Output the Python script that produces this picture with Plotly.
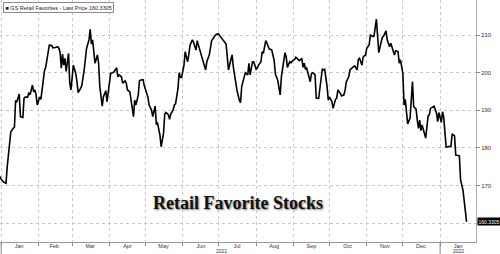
import plotly.graph_objects as go

# ---------------- data ----------------
dates = [
    "2020-12-31", "2021-01-01", "2021-01-03", "2021-01-05", "2021-01-06", "2021-01-08", "2021-01-09",
    "2021-01-11", "2021-01-12", "2021-01-13", "2021-01-14", "2021-01-16", "2021-01-17", "2021-01-19",
    "2021-01-20", "2021-01-21", "2021-01-23", "2021-01-24", "2021-01-25", "2021-01-27", "2021-01-28",
    "2021-01-29", "2021-01-30", "2021-01-31", "2021-02-02", "2021-02-03", "2021-02-05", "2021-02-06",
    "2021-02-07", "2021-02-09", "2021-02-10", "2021-02-12", "2021-02-13", "2021-02-15", "2021-02-17",
    "2021-02-18", "2021-02-19", "2021-02-20", "2021-02-21", "2021-02-22", "2021-02-23", "2021-02-24",
    "2021-02-26", "2021-02-27", "2021-02-28", "2021-03-02", "2021-03-04", "2021-03-05", "2021-03-06",
    "2021-03-08", "2021-03-09", "2021-03-11", "2021-03-13", "2021-03-15", "2021-03-16", "2021-03-17",
    "2021-03-18", "2021-03-20", "2021-03-22", "2021-03-23", "2021-03-24", "2021-03-26", "2021-03-27",
    "2021-03-29", "2021-03-30", "2021-04-01", "2021-04-02", "2021-04-04", "2021-04-05", "2021-04-07",
    "2021-04-08", "2021-04-09", "2021-04-11", "2021-04-12", "2021-04-14", "2021-04-15", "2021-04-16",
    "2021-04-18", "2021-04-19", "2021-04-21", "2021-04-22", "2021-04-23", "2021-04-25", "2021-04-26",
    "2021-04-28", "2021-04-29", "2021-04-30", "2021-05-02", "2021-05-03", "2021-05-04", "2021-05-06",
    "2021-05-07", "2021-05-09", "2021-05-10", "2021-05-11", "2021-05-13", "2021-05-14", "2021-05-16",
    "2021-05-17", "2021-05-18", "2021-05-20", "2021-05-21", "2021-05-22", "2021-05-24", "2021-05-25",
    "2021-05-26", "2021-05-28", "2021-05-29", "2021-05-30", "2021-05-31", "2021-06-02", "2021-06-03",
    "2021-06-05", "2021-06-06", "2021-06-07", "2021-06-09", "2021-06-10", "2021-06-12", "2021-06-13",
    "2021-06-14", "2021-06-16", "2021-06-17", "2021-06-18", "2021-06-20", "2021-06-21", "2021-06-23",
    "2021-06-24", "2021-06-25", "2021-06-27", "2021-06-28", "2021-06-30", "2021-07-01", "2021-07-02",
    "2021-07-04", "2021-07-05", "2021-07-07", "2021-07-08", "2021-07-09", "2021-07-11", "2021-07-12",
    "2021-07-13", "2021-07-15", "2021-07-16", "2021-07-18", "2021-07-19", "2021-07-20", "2021-07-22",
    "2021-07-23", "2021-07-25", "2021-07-26", "2021-07-27", "2021-07-29", "2021-07-30", "2021-08-01",
    "2021-08-02", "2021-08-03", "2021-08-05", "2021-08-06", "2021-08-07", "2021-08-09", "2021-08-10",
    "2021-08-12", "2021-08-13", "2021-08-14", "2021-08-16", "2021-08-17", "2021-08-19", "2021-08-21",
    "2021-08-22", "2021-08-24", "2021-08-25", "2021-08-26", "2021-08-27", "2021-08-29", "2021-08-30",
    "2021-09-01", "2021-09-02", "2021-09-03", "2021-09-05", "2021-09-06", "2021-09-08", "2021-09-09",
    "2021-09-10", "2021-09-11", "2021-09-12", "2021-09-13", "2021-09-15", "2021-09-16", "2021-09-17",
    "2021-09-19", "2021-09-20", "2021-09-22", "2021-09-23", "2021-09-25", "2021-09-26", "2021-09-27",
    "2021-09-29", "2021-09-30", "2021-10-01", "2021-10-03", "2021-10-04", "2021-10-06", "2021-10-07",
    "2021-10-08", "2021-10-10", "2021-10-11", "2021-10-13", "2021-10-14", "2021-10-15", "2021-10-17",
    "2021-10-18", "2021-10-20", "2021-10-21", "2021-10-22", "2021-10-24", "2021-10-25", "2021-10-26",
    "2021-10-28", "2021-10-29", "2021-10-31", "2021-11-01", "2021-11-03", "2021-11-04", "2021-11-06",
    "2021-11-07", "2021-11-09", "2021-11-10", "2021-11-11", "2021-11-13", "2021-11-14", "2021-11-15",
    "2021-11-17", "2021-11-18", "2021-11-20", "2021-11-21", "2021-11-22", "2021-11-24", "2021-11-25",
    "2021-11-27", "2021-11-28", "2021-11-29", "2021-12-01", "2021-12-02", "2021-12-03", "2021-12-04",
    "2021-12-05", "2021-12-07", "2021-12-08", "2021-12-09", "2021-12-10", "2021-12-12", "2021-12-13",
    "2021-12-14", "2021-12-15", "2021-12-16", "2021-12-17", "2021-12-19", "2021-12-20", "2021-12-22",
    "2021-12-23", "2021-12-24", "2021-12-26", "2021-12-27", "2021-12-29", "2021-12-30", "2021-12-31",
    "2022-01-02", "2022-01-03", "2022-01-04", "2022-01-06", "2022-01-07", "2022-01-09", "2022-01-10",
    "2022-01-11", "2022-01-13", "2022-01-14", "2022-01-16", "2022-01-17", "2022-01-18", "2022-01-20",
    "2022-01-21", "2022-01-23",
]
prices = [
    172.4, 171.7, 170.9, 170.6, 175.0, 180.3, 184.3,
    185.2, 185.5, 192.6, 192.3, 194.3, 188.3, 188.1,
    193.2, 193.5, 193.5, 194.7, 194.1, 196.7, 194.9,
    195.4, 194.1, 191.4, 193.5, 192.9, 198.1, 200.5,
    201.4, 206.2, 207.3, 207.2, 206.6, 206.7, 206.9,
    206.5, 205.3, 201.2, 204.9, 202.0, 203.8, 200.3,
    205.1, 197.2, 195.4, 202.0, 199.8, 197.6, 194.7,
    195.8, 196.5, 200.7, 206.5, 208.7, 211.5, 207.6,
    208.7, 202.5, 204.7, 202.5, 196.3, 191.1, 193.6,
    195.2, 192.3, 197.2, 199.8, 200.0, 200.3, 201.3,
    198.9, 199.4, 198.9, 197.2, 197.8, 197.2, 195.4,
    194.9, 192.7, 188.3, 192.7, 191.4, 194.1, 197.9,
    198.1, 198.1, 196.5, 194.5, 193.5, 191.4, 190.1,
    188.3, 191.1, 186.4, 186.6, 183.4, 180.3, 183.9,
    189.0, 189.4, 188.8, 187.6, 189.0, 190.1, 191.4,
    191.7, 195.8, 200.0, 198.8, 198.7, 202.0, 205.6,
    202.9, 204.7, 207.3, 208.7, 208.0, 206.0, 208.5,
    207.3, 205.1, 204.1, 203.5, 200.7, 202.9, 204.7,
    206.5, 208.5, 209.4, 210.0, 210.3, 210.2, 209.7,
    208.9, 208.7, 207.6, 204.2, 200.7, 203.5, 204.7,
    201.6, 196.7, 195.4, 192.7, 192.0, 196.3, 199.4,
    200.0, 199.4, 202.5, 199.4, 202.9, 202.9, 200.9,
    201.2, 202.0, 202.9, 205.6, 205.1, 208.5, 207.8,
    206.2, 206.2, 206.0, 203.2, 199.6, 197.9, 194.1,
    198.9, 202.5, 205.3, 204.2, 201.4, 202.9, 202.6,
    203.4, 203.5, 204.1, 203.5, 203.2, 203.8, 201.4,
    202.5, 200.9, 201.2, 199.8, 197.6, 199.8, 200.0,
    199.4, 193.2, 193.2, 195.4, 200.9, 200.7, 200.9,
    196.3, 192.7, 193.5, 192.3, 190.5, 192.9, 193.2,
    195.4, 194.5, 193.8, 194.1, 195.4, 197.6, 198.9,
    200.7, 201.4, 201.6, 201.8, 200.7, 203.5, 203.8,
    202.0, 204.2, 204.7, 206.5, 207.4, 210.0, 209.6,
    209.7, 214.2, 209.6, 205.3, 208.2, 209.4, 209.7,
    211.1, 208.7, 206.9, 207.8, 206.5, 204.7, 205.8,
    205.6, 202.5, 203.4, 199.8, 191.4, 192.9, 189.2,
    186.4, 187.9, 194.1, 197.6, 191.0, 190.3, 187.4,
    185.2, 187.4, 184.6, 186.1, 183.7, 182.6, 188.5,
    188.8, 190.5, 190.8, 191.1, 189.2, 187.0, 189.4,
    186.8, 189.6, 188.1, 180.2, 180.3, 180.3, 180.4,
    183.7, 183.2, 178.1, 177.9, 177.9, 171.5, 168.8,
    166.0, 160.3305,
]

month_starts = [
    "2021-01-01", "2021-02-01", "2021-03-01", "2021-04-01", "2021-05-01", "2021-06-01", "2021-07-01",
    "2021-08-01", "2021-09-01", "2021-10-01", "2021-11-01", "2021-12-01", "2022-01-01",
]
month_label_dates = [
    "2021-01-16", "2021-02-14", "2021-03-16", "2021-04-16", "2021-05-16", "2021-06-16", "2021-07-16",
    "2021-08-16", "2021-09-16", "2021-10-16", "2021-11-16", "2021-12-16", "2022-01-16",
]
month_labels = ["Jan", "Feb", "Mar", "Apr", "May", "Jun", "Jul", "Aug", "Sep", "Oct", "Nov", "Dec", "Jan"]
year_boundaries = ["2021-01-01", "2022-01-01"]
year_labels = ["2021", "2022"]
year_label_dates = ["2021-07-03", "2022-01-16"]
grid_y = [160, 170, 180, 190, 200, 210]
label_y = [170, 180, 190, 200, 210]  # 160 is covered by the last-price tag
x_range = ["2020-12-31", "2022-01-30 20:00"]
y_range = [155.0, 219.3]
series_name = "GS Retail Favorites - Last Price"
last_price = prices[-1]
title_text = "Retail Favorite Stocks"

GRID = "#c9c9c9"
LABEL = "#333333"
FONT = "Liberation Sans"

fig = go.Figure()
fig.add_trace(go.Scatter(
    x=dates, y=prices, mode="lines",
    line=dict(color="#000000", width=1.6),
    showlegend=False, hoverinfo="skip",
))

fig.update_layout(
    width=500, height=254,
    margin=dict(l=0, r=24, t=0, b=12, autoexpand=False),
    paper_bgcolor="white", plot_bgcolor="white",
    showlegend=False,
    xaxis=dict(
        range=x_range, type="date",
        tickmode="array", tickvals=month_label_dates, ticktext=month_labels,
        ticks="", showgrid=False, automargin=False,
        tickfont=dict(family=FONT, size=5.5, color=LABEL),
        ticklabelstandoff=-2,
        showline=True, linecolor="#9a9a9a", linewidth=1,
        zeroline=False,
        minor=dict(tickmode="array", tickvals=month_starts, ticks="outside", ticklen=3,
                   tickcolor="#888888", showgrid=True, gridcolor=GRID, griddash="dot", gridwidth=1),
    ),
    yaxis=dict(
        range=y_range, side="right",
        tickmode="array", tickvals=label_y, ticktext=[str(v) for v in label_y],
        ticks="outside", ticklen=3, tickcolor="#888888",
        tickfont=dict(family=FONT, size=6, color=LABEL),
        showgrid=True, gridcolor=GRID, griddash="dot", gridwidth=1,
        showline=True, linecolor="#b0b0b0", linewidth=1,
        zeroline=False, automargin=False,
        minor=dict(tickmode="array", tickvals=grid_y, ticks="outside", ticklen=3,
                   tickcolor="#888888", showgrid=True, gridcolor=GRID, griddash="dot", gridwidth=1),
    ),
)

# year separators below the axis
for yb in year_boundaries:
    fig.add_shape(type="line", xref="x", yref="paper", x0=yb, x1=yb, y0=0, y1=-0.05,
                  line=dict(color="#888888", width=1))

for yl, yd in zip(year_labels, year_label_dates):
    fig.add_annotation(x=yd, y=-0.021, xref="x", yref="paper", text=yl, showarrow=False,
                       xanchor="center", yanchor="top", borderpad=0,
                       font=dict(family=FONT, size=5, color=LABEL))

# last price tag
fig.add_annotation(x=1, y=last_price, xref="paper", yref="y", text=f"{last_price:.4f}",
                   showarrow=False, xanchor="left", yanchor="middle", xshift=1,
                   bgcolor="#000000", borderpad=0.5,
                   font=dict(family=FONT, size=5, color="white"))

# legend box
fig.add_annotation(x=0.006, y=0.99, xref="paper", yref="paper",
                   text=f"\u25A0 {series_name} {last_price:.4f}",
                   showarrow=False, xanchor="left", yanchor="top",
                   bgcolor="white", bordercolor="#8c8c8c", borderwidth=1, borderpad=1.5,
                   font=dict(family=FONT, size=5.5, color="#222222"))

# title text
fig.add_annotation(x="2021-07-17", y=0.163, xref="x", yref="paper", text=f"<b>{title_text}</b>",
                   showarrow=False, xanchor="center", yanchor="middle",
                   font=dict(family="Liberation Serif", size=18, color="#111111",
                             shadow="1px 1px 2px #777777"))

fig.write_html("out.html")
